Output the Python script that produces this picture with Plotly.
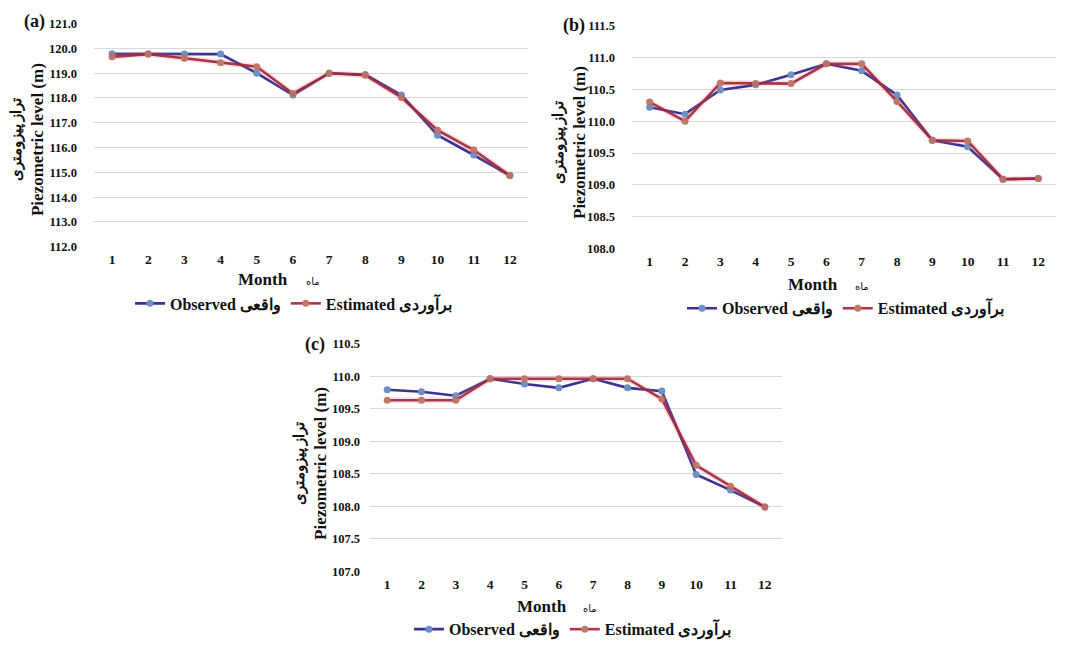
import plotly.graph_objects as go

W, H = 1066, 648

months = list(range(1, 13))

obs_a = [119.78, 119.77, 119.77, 119.77, 119.0, 118.12, 119.0, 118.95, 118.12, 116.5, 115.7, 114.87]
est_a = [119.66, 119.77, 119.6, 119.42, 119.26, 118.18, 119.0, 118.92, 118.02, 116.7, 115.9, 114.87]

obs_b = [110.22, 110.11, 110.49, 110.57, 110.73, 110.9, 110.79, 110.41, 109.7, 109.6, 109.09, 109.1]
est_b = [110.3, 110.0, 110.6, 110.59, 110.59, 110.9, 110.9, 110.31, 109.7, 109.69, 109.09, 109.1]

obs_c = [109.79, 109.76, 109.7, 109.96, 109.88, 109.82, 109.96, 109.82, 109.77, 108.49, 108.25, 107.99]
est_c = [109.63, 109.63, 109.63, 109.96, 109.96, 109.96, 109.96, 109.96, 109.65, 108.63, 108.31, 107.99]

yticks_a = [112.0, 113.0, 114.0, 115.0, 116.0, 117.0, 118.0, 119.0, 120.0, 121.0]
yticks_b = [108.0, 108.5, 109.0, 109.5, 110.0, 110.5, 111.0, 111.5]
yticks_c = [107.0, 107.5, 108.0, 108.5, 109.0, 109.5, 110.0, 110.5]

obs_name = "Observed واقعی"
est_name = "Estimated برآوردی"
ytitle = "<span style='font-size:15px'>تراز پیزومتری</span><br>Piezometric level (m)"
xtitle_en = "Month"
xtitle_fa = "ماه"

OBS_LINE = "#3B3391"
OBS_MARK = "#6D90C9"
EST_LINE = "#A3283A"
EST_MARK = "#BD6E5E"
EST_GLOW = "rgba(240,110,125,0.20)"
SERIF = "Liberation Serif, Times New Roman, serif"

def px(x):
    return x / W

def py(y):
    return 1 - y / H

panels = [
    ("x", "y", obs_a, est_a, yticks_a, (94, 528), (17, 245), "legend", 16),
    ("x2", "y2", obs_b, est_b, yticks_b, (632, 1056), (19, 247), "legend2", 16),
    ("x3", "y3", obs_c, est_c, yticks_c, (370, 782), (344, 577), "legend3", 9),
]

fig = go.Figure()
layout = {}
for i, (xa, ya, obs, est, yt, xd, yd, lg, stand) in enumerate(panels):
    fig.add_trace(go.Scatter(
        x=months, y=obs, xaxis=xa, yaxis=ya, mode="lines+markers", name=obs_name,
        line=dict(color=OBS_LINE, width=2.6), marker=dict(color=OBS_MARK, size=7),
        legend=lg, showlegend=True))
    fig.add_trace(go.Scatter(
        x=months, y=est, xaxis=xa, yaxis=ya, mode="lines", name="glow",
        line=dict(color=EST_GLOW, width=6), showlegend=False, hoverinfo="skip"))
    fig.add_trace(go.Scatter(
        x=months, y=est, xaxis=xa, yaxis=ya, mode="lines+markers", name=est_name,
        line=dict(color=EST_LINE, width=2.6), marker=dict(color=EST_MARK, size=7),
        opacity=0.92, legend=lg, showlegend=True))
    sfx = "" if i == 0 else str(i + 1)
    layout["xaxis" + sfx] = dict(
        domain=[px(xd[0]), px(xd[1])], range=[0.5, 12.5], tickvals=months,
        ticktext=[str(m) for m in months], showgrid=False, zeroline=False,
        showline=False, ticks="", ticklabelstandoff=3,
        tickfont=dict(family=SERIF, size=13.5, color="#111111", weight="bold"),
        anchor=ya, fixedrange=True)
    layout["yaxis" + sfx] = dict(
        domain=[py(yd[1]), py(yd[0])], range=[yt[0], yt[-1]], tickvals=yt,
        ticktext=[f"{v:.1f}" for v in yt], showgrid=True, gridcolor="#D9D9D9",
        gridwidth=1, zeroline=False, showline=False, ticks="",
        ticklabelstandoff=stand,
        tickfont=dict(family=SERIF, size=12.5, color="#111111", weight="bold"),
        anchor=xa, fixedrange=True)

leg_common = dict(orientation="h", xanchor="center", yanchor="middle",
                  font=dict(family=SERIF, size=16, color="#111111", weight="bold"),
                  bgcolor="rgba(0,0,0,0)", itemwidth=30, tracegroupgap=0)
layout["legend"] = dict(x=px(294), y=py(303), **leg_common)
layout["legend2"] = dict(x=px(846), y=py(308), **leg_common)
layout["legend3"] = dict(x=px(573), y=py(636), **leg_common)

annotations = []
for lbl, (x, y) in zip(["(a)", "(b)", "(c)"], [(34, 15), (574, 19), (315, 345)]):
    annotations.append(dict(text=lbl, x=px(x), y=py(y), xref="paper", yref="paper",
                            showarrow=False, xanchor="center", yanchor="middle",
                            font=dict(family=SERIF, size=18, color="#111111", weight="bold")))
for (x, y) in [(27, 136), (570, 139), (311, 467)]:
    annotations.append(dict(text=ytitle, x=px(x), y=py(y), xref="paper", yref="paper",
                            showarrow=False, xanchor="center", yanchor="middle", textangle=-90,
                            font=dict(family=SERIF, size=17, color="#111111", weight="bold")))
for (xm, xf, y) in [(263, 313, 279), (813, 862, 284), (542, 590, 613)]:
    annotations.append(dict(text=xtitle_en, x=px(xm), y=py(y), xref="paper", yref="paper",
                            showarrow=False, xanchor="center", yanchor="middle",
                            font=dict(family=SERIF, size=17, color="#111111", weight="bold")))
    annotations.append(dict(text=xtitle_fa, x=px(xf), y=py(y + 2), xref="paper", yref="paper",
                            showarrow=False, xanchor="center", yanchor="middle",
                            font=dict(family="DejaVu Sans", size=10, color="#111111")))

fig.update_layout(
    width=W, height=H, margin=dict(l=0, r=0, t=0, b=0),
    paper_bgcolor="white", plot_bgcolor="white",
    annotations=annotations, hovermode=False, **layout)

fig.write_html("out.html", config={"displayModeBar": False},
               post_script="document.body.style.margin='0';document.body.style.overflow='hidden';")
